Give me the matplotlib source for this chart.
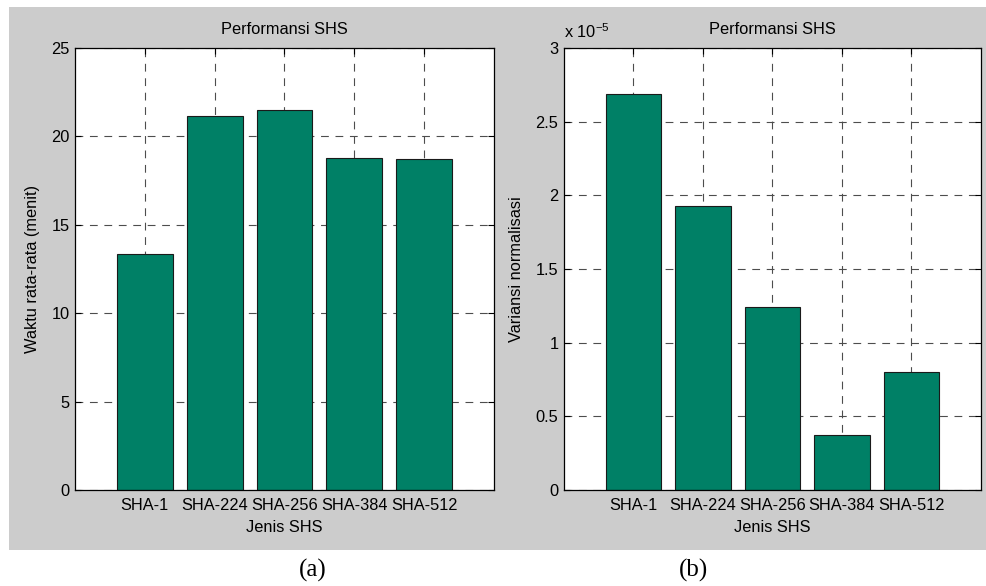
import matplotlib
matplotlib.use('Agg')
import matplotlib.pyplot as plt
from matplotlib.patches import Rectangle
from matplotlib.ticker import FixedLocator, FuncFormatter

# Data
jenis = ['SHA-1', 'SHA-224', 'SHA-256', 'SHA-384', 'SHA-512']
waktu = [13.33, 21.13, 21.49, 18.80, 18.70]          # menit
variansi = [2.69e-5, 1.93e-5, 1.24e-5, 0.373e-5, 0.798e-5]

plt.rcParams['font.family'] = ['Liberation Sans', 'DejaVu Sans']
plt.rcParams['font.size'] = 11.8
plt.rcParams['mathtext.fontset'] = 'custom'
plt.rcParams['mathtext.rm'] = 'Liberation Sans'
plt.rcParams['mathtext.it'] = 'Liberation Sans'

warna_bar = '#008066'
warna_bg = '#cccccc'
fs = 11.8

fig = plt.figure(figsize=(9.87, 5.86), dpi=100, facecolor='white')

# latar abu-abu gaya MATLAB
fig.patches.append(Rectangle((9 / 987, 1 - 550 / 586), 1 - 9 / 987, (550 - 7) / 586,
                             transform=fig.transFigure, facecolor=warna_bg,
                             edgecolor='none', zorder=-10))

ax1 = fig.add_axes([75 / 987, 1 - 490 / 586, 419 / 987, 442 / 586])
ax2 = fig.add_axes([564 / 987, 1 - 490 / 586, 417 / 987, 442 / 586])

pos = list(range(1, len(jenis) + 1))


def gaya(ax):
    ax.set_xlim(0, 6)
    ax.set_xticks(pos)
    ax.set_xticklabels(jenis)
    ax.set_axisbelow(True)
    ax.grid(True, color='#4d4d4d', linestyle=(0, (7, 6)), linewidth=0.8)
    ax.tick_params(direction='in', top=True, right=True, length=4,
                   width=0.8, labelsize=fs)
    ax.tick_params(axis='x', pad=6)
    ax.tick_params(axis='y', pad=4)
    for s in ax.spines.values():
        s.set_linewidth(0.9)
        s.set_color('black')
    ax.set_title('Performansi SHS', fontsize=fs, pad=10)
    ax.set_xlabel('Jenis SHS', fontsize=fs, labelpad=4.5)


# (a) waktu rata-rata
ax1.bar(pos, waktu, width=0.8, color=warna_bar, edgecolor='#1a1a1a', linewidth=0.8)
gaya(ax1)
ax1.set_ylim(0, 25)
ax1.set_yticks([0, 5, 10, 15, 20, 25])
ax1.set_ylabel('Waktu rata-rata (menit)', fontsize=fs, labelpad=8)

# (b) variansi normalisasi
ax2.bar(pos, variansi, width=0.8, color=warna_bar, edgecolor='#1a1a1a', linewidth=0.8)
gaya(ax2)
ax2.set_ylim(0, 3e-5)
ax2.yaxis.set_major_locator(FixedLocator([0, 0.5e-5, 1e-5, 1.5e-5, 2e-5, 2.5e-5, 3e-5]))
ax2.yaxis.set_major_formatter(FuncFormatter(lambda v, p: ('%g' % round(v * 1e5, 2))))
ax2.set_ylabel('Variansi normalisasi', fontsize=fs, labelpad=8)
ax2.text(0.0, 1.022, r'x 10$^{-5}$', transform=ax2.transAxes, fontsize=fs,
         ha='left', va='baseline')

# keterangan (a) dan (b)
fig.text(313 / 987, 1 - 570 / 586, '(a)', family='Liberation Serif', fontsize=18,
         ha='center', va='center')
fig.text(694 / 987, 1 - 570 / 586, '(b)', family='Liberation Serif', fontsize=18,
         ha='center', va='center')

fig.savefig('out.png', dpi=100, facecolor='white')
